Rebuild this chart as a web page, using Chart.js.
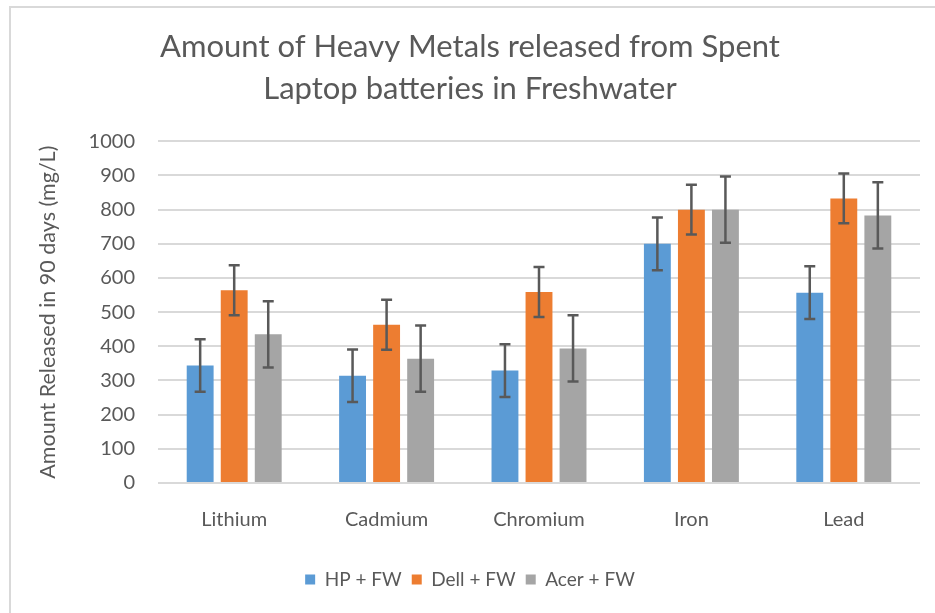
<!DOCTYPE html>
<html>
<head>
<meta charset="utf-8">
<script src="https://cdn.jsdelivr.net/npm/chart.js@4"></script>
<style>
  html, body { margin: 0; padding: 0; background: #fff; }
  #wrap { position: relative; width: 935px; height: 613px; }
  #frame { position: absolute; left: 9px; top: 6px; right: 0; bottom: 0;
           border-left: 2px solid #d9d9d9; border-top: 2px solid #d9d9d9; }
</style>
</head>
<body>
<div id="wrap">
  <div id="frame"></div>
  <canvas id="myChart" width="935" height="613"></canvas>
</div>
<script>
const metals = ['Lithium', 'Cadmium', 'Chromium', 'Iron', 'Lead'];
const hpFW = [344, 314, 329, 700, 557];
const dellFW = [564, 463, 559, 800, 833];
const acerFW = [435, 364, 394, 800, 783];
// error bar half-lengths (mg/L)
const hpErr = [77, 77, 77, 77, 77];
const dellErr = [73, 73, 73, 73, 73];
const acerErr = [97, 97, 97, 97, 97];
const yTicks = [0, 100, 200, 300, 400, 500, 600, 700, 800, 900, 1000];

const grey = '#595959';
const font = 'Lato, "Open Sans", sans-serif';

// draws the error bars on top of each bar
const errorBars = {
  id: 'errorBars',
  afterDatasetsDraw(chart) {
    const ctx = chart.ctx;
    const y = chart.scales.y;
    chart.data.datasets.forEach((ds, i) => {
      const meta = chart.getDatasetMeta(i);
      meta.data.forEach((bar, j) => {
        const v = ds.data[j];
        const e = ds.errors[j];
        const top = y.getPixelForValue(v + e);
        const bot = y.getPixelForValue(v - e);
        ctx.save();
        ctx.strokeStyle = grey;
        ctx.lineWidth = 2.5;
        ctx.beginPath();
        ctx.moveTo(bar.x, top); ctx.lineTo(bar.x, bot);
        ctx.moveTo(bar.x - 5.5, top); ctx.lineTo(bar.x + 5.5, top);
        ctx.moveTo(bar.x - 5.5, bot); ctx.lineTo(bar.x + 5.5, bot);
        ctx.stroke();
        ctx.restore();
      });
    });
  }
};

const ctx = document.getElementById('myChart').getContext('2d');

new Chart(ctx, {
  type: 'bar',
  data: {
    labels: metals,
    datasets: [
      { label: 'HP + FW', data: hpFW, errors: hpErr, backgroundColor: '#5b9bd5' },
      { label: 'Dell + FW', data: dellFW, errors: dellErr, backgroundColor: '#ed7d31' },
      { label: 'Acer + FW', data: acerFW, errors: acerErr, backgroundColor: '#a5a5a5' }
    ]
  },
  options: {
    responsive: false,
    animation: false,
    datasets: {
      bar: { categoryPercentage: 0.67, barPercentage: 0.79 }
    },
    layout: { padding: { top: 26, left: 20, right: 15, bottom: 14 } },
    plugins: {
      title: {
        display: true,
        text: ['Amount of Heavy Metals released from Spent', 'Laptop batteries in Freshwater'],
        color: grey,
        font: { family: font, size: 31, weight: 'normal', lineHeight: 1.36 },
        padding: { top: 0, bottom: 31 }
      },
      legend: {
        position: 'bottom',
        labels: {
          color: grey,
          boxWidth: 10,
          boxHeight: 10,
          padding: 10,
          font: { family: font, size: 19 }
        }
      },
      tooltip: { enabled: false }
    },
    scales: {
      x: {
        grid: { display: false },
        border: { display: false },
        ticks: { color: grey, padding: 17, font: { family: font, size: 20 } },
        afterFit(scale) { scale.height = 77; }
      },
      y: {
        min: 0,
        max: 1000,
        afterBuildTicks(scale) { scale.ticks = yTicks.map(v => ({ value: v })); },
        grid: { color: '#d9d9d9', lineWidth: 2, drawTicks: false },
        border: { display: false },
        ticks: {
          color: grey, padding: 23, font: { family: font, size: 20 },
          callback: v => String(v)
        },
        title: {
          display: true,
          text: 'Amount Released in 90 days (mg/L)',
          color: grey,
          font: { family: font, size: 21.5 },
          padding: { top: 15, bottom: 0 }
        },
        afterFit(scale) { scale.width = 138; }
      }
    }
  },
  plugins: [errorBars]
});
</script>
</body>
</html>
